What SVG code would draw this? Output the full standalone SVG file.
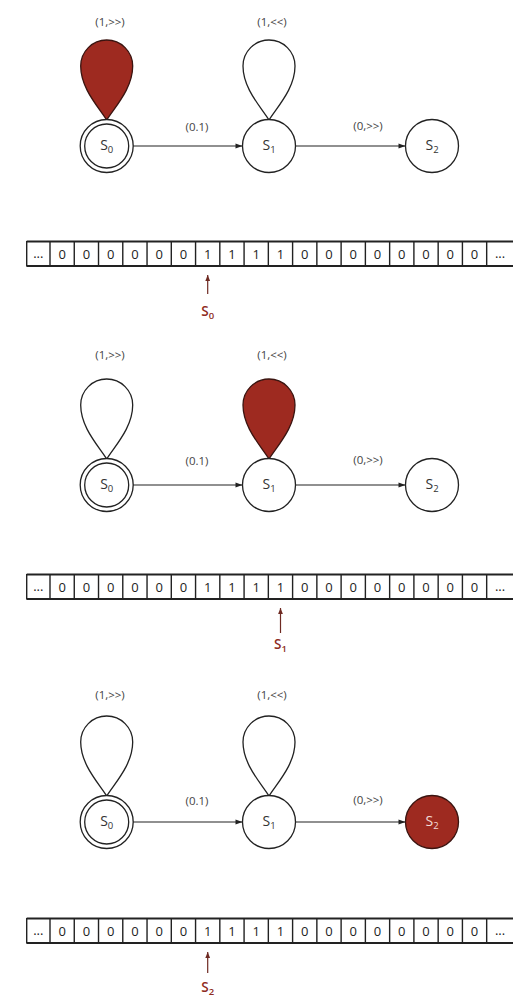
<svg xmlns="http://www.w3.org/2000/svg" xmlns:xlink="http://www.w3.org/1999/xlink" width="513" height="999" viewBox="0 0 513 999">
<style>
  .bg{fill:#ffffff}
  .st{fill:#ffffff;stroke:#222;stroke-width:1.3}
  .hot{fill:#9e2a20;stroke:#3a1410;stroke-width:1.3}
  .loop{fill:#ffffff;stroke:#222;stroke-width:1.3}
  .loophot{fill:#9e2a20;stroke:#3a1410;stroke-width:1.3}
  .edge{stroke:#222;stroke-width:1.1;fill:none}
  .lbl{font-family:"Open Sans","Liberation Sans",sans-serif;font-size:11.5px;fill:#444;text-anchor:middle}
  .sn{font-family:"Open Sans","Liberation Sans",sans-serif;font-size:14px;fill:#333;text-anchor:middle}
  .snw{font-family:"Open Sans","Liberation Sans",sans-serif;font-size:14px;fill:#f3dcd8;text-anchor:middle}
  .sub{font-size:9.5px}
  .tl{stroke:#222;stroke-width:2;fill:none}
  .td{stroke:#222;stroke-width:1.4;fill:none}
  .cell{font-family:"Open Sans","Liberation Sans",sans-serif;font-size:13px;fill:#222;text-anchor:middle}
  .ptr{stroke:#6e2a22;stroke-width:1.2;fill:none}
  .plbl{font-family:"Open Sans","Liberation Sans",sans-serif;font-size:13.5px;font-weight:600;fill:#8e2c22;text-anchor:middle}
</style>
<defs>
  <path id="loopShape" d="M0,-26 C-9,-40 -26,-58 -26,-80 A26,26 0 0 1 26,-80 C26,-58 9,-40 0,-26 Z"/>
  <marker id="ah" viewBox="0 0 10 10" refX="10" refY="5" markerWidth="9" markerHeight="7" markerUnits="userSpaceOnUse" orient="auto">
    <path d="M0,1.5 L10,5 L0,8.5 Z" fill="#222"/>
  </marker>
  <marker id="ahp" viewBox="0 0 10 10" refX="10" refY="5" markerWidth="8" markerHeight="6" markerUnits="userSpaceOnUse" orient="auto">
    <path d="M0,1 L10,5 L0,9 Z" fill="#6e2a22"/>
  </marker>
  <g id="tapeLines">
    <path class="tl" d="M26.7,241.5 H513 M26.7,266 H513"/>
    <path class="td" d="M26.7,241 V266.5 M50,241 V266.5 M74.26,241 V266.5 M98.52,241 V266.5 M122.78,241 V266.5 M147.04,241 V266.5 M171.3,241 V266.5 M195.56,241 V266.5 M219.82,241 V266.5 M244.08,241 V266.5 M268.34,241 V266.5 M292.6,241 V266.5 M316.86,241 V266.5 M341.12,241 V266.5 M365.38,241 V266.5 M389.64,241 V266.5 M413.9,241 V266.5 M438.16,241 V266.5 M462.42,241 V266.5 M486.68,241 V266.5"/>
  </g>
</defs>
<rect class="bg" x="0" y="0" width="513" height="999"/>

<!-- ===== Diagram 1 ===== -->
<g id="diagram1">
  <g id="d1-connectors">
    <use xlink:href="#loopShape" href="#loopShape" x="106.7" y="146" class="loophot"/>
    <use xlink:href="#loopShape" href="#loopShape" x="269" y="146" class="loop"/>
    <line class="edge" x1="133" y1="146" x2="242.5" y2="146" marker-end="url(#ah)"/>
    <line class="edge" x1="296" y1="146" x2="405.5" y2="146" marker-end="url(#ah)"/>
    <text class="lbl" x="110" y="26">(1,&gt;&gt;)</text>
    <text class="lbl" x="272" y="26">(1,&lt;&lt;)</text>
    <text class="lbl" x="197" y="131">(0.1)</text>
    <text class="lbl" x="368" y="130">(0,&gt;&gt;)</text>
  </g>
  <g id="d1-s0">
    <circle class="st" cx="106.7" cy="146" r="26.5"/>
    <circle class="st" cx="106.7" cy="146" r="22"/>
    <text class="sn" x="106.7" y="150">S<tspan class="sub" dy="3">0</tspan></text>
  </g>
  <g id="d1-s1">
    <circle class="st" cx="269" cy="146" r="26.5"/>
    <text class="sn" x="269" y="150">S<tspan class="sub" dy="3">1</tspan></text>
  </g>
  <g id="d1-s2">
    <circle class="st" cx="432" cy="146" r="26.5"/>
    <text class="sn" x="432" y="150">S<tspan class="sub" dy="3">2</tspan></text>
  </g>
</g>

<!-- ===== Tape 1 ===== -->
<g id="tape1">
  <use xlink:href="#tapeLines" href="#tapeLines"/>
  <text class="cell" x="38.3" y="258">...</text>
  <text class="cell" x="62.13 86.39 110.65 134.91 159.17 183.43 207.69 231.95 256.21 280.47 304.73 328.99 353.25 377.51 401.77 426.03 450.29 474.55" y="258.5">000000111100000000</text>
  <text class="cell" x="500" y="258">...</text>
  <line class="ptr" x1="207.7" y1="294" x2="207.7" y2="275" marker-end="url(#ahp)"/>
  <text class="plbl" x="207.7" y="316">S<tspan class="sub" dy="3">0</tspan></text>
</g>

<!-- ===== Diagram 2 ===== -->
<g id="diagram2" transform="translate(0,339)">
  <g id="d2-connectors">
    <use xlink:href="#loopShape" href="#loopShape" x="106.7" y="146" class="loop"/>
    <use xlink:href="#loopShape" href="#loopShape" x="269" y="146" class="loophot"/>
    <line class="edge" x1="133" y1="146" x2="242.5" y2="146" marker-end="url(#ah)"/>
    <line class="edge" x1="296" y1="146" x2="405.5" y2="146" marker-end="url(#ah)"/>
    <text class="lbl" x="110" y="20">(1,&gt;&gt;)</text>
    <text class="lbl" x="272" y="20">(1,&lt;&lt;)</text>
    <text class="lbl" x="197" y="126">(0.1)</text>
    <text class="lbl" x="368" y="125">(0,&gt;&gt;)</text>
  </g>
  <g id="d2-s0">
    <circle class="st" cx="106.7" cy="146" r="26.5"/>
    <circle class="st" cx="106.7" cy="146" r="22"/>
    <text class="sn" x="106.7" y="150">S<tspan class="sub" dy="3">0</tspan></text>
  </g>
  <g id="d2-s1">
    <circle class="st" cx="269" cy="146" r="26.5"/>
    <text class="sn" x="269" y="150">S<tspan class="sub" dy="3">1</tspan></text>
  </g>
  <g id="d2-s2">
    <circle class="st" cx="432" cy="146" r="26.5"/>
    <text class="sn" x="432" y="150">S<tspan class="sub" dy="3">2</tspan></text>
  </g>
</g>

<!-- ===== Tape 2 ===== -->
<g id="tape2" transform="translate(0,333)">
  <use xlink:href="#tapeLines" href="#tapeLines"/>
  <text class="cell" x="38.3" y="258">...</text>
  <text class="cell" x="62.13 86.39 110.65 134.91 159.17 183.43 207.69 231.95 256.21 280.47 304.73 328.99 353.25 377.51 401.77 426.03 450.29 474.55" y="258.5">000000111100000000</text>
  <text class="cell" x="500" y="258">...</text>
  <line class="ptr" x1="280.5" y1="300" x2="280.5" y2="275" marker-end="url(#ahp)"/>
  <text class="plbl" x="280.5" y="316">S<tspan class="sub" dy="3">1</tspan></text>
</g>

<!-- ===== Diagram 3 ===== -->
<g id="diagram3" transform="translate(0,676)">
  <g id="d3-connectors">
    <use xlink:href="#loopShape" href="#loopShape" x="106.7" y="146" class="loop"/>
    <use xlink:href="#loopShape" href="#loopShape" x="269" y="146" class="loop"/>
    <line class="edge" x1="133" y1="146" x2="242.5" y2="146" marker-end="url(#ah)"/>
    <line class="edge" x1="296" y1="146" x2="405.5" y2="146" marker-end="url(#ah)"/>
    <text class="lbl" x="110" y="23">(1,&gt;&gt;)</text>
    <text class="lbl" x="272" y="23">(1,&lt;&lt;)</text>
    <text class="lbl" x="197" y="129">(0.1)</text>
    <text class="lbl" x="368" y="128">(0,&gt;&gt;)</text>
  </g>
  <g id="d3-s0">
    <circle class="st" cx="106.7" cy="146" r="26.5"/>
    <circle class="st" cx="106.7" cy="146" r="22"/>
    <text class="sn" x="106.7" y="150">S<tspan class="sub" dy="3">0</tspan></text>
  </g>
  <g id="d3-s1">
    <circle class="st" cx="269" cy="146" r="26.5"/>
    <text class="sn" x="269" y="150">S<tspan class="sub" dy="3">1</tspan></text>
  </g>
  <g id="d3-s2">
    <circle class="hot" cx="432" cy="146" r="26.5"/>
    <text class="snw" x="432" y="150">S<tspan class="sub" dy="3">2</tspan></text>
  </g>
</g>

<!-- ===== Tape 3 ===== -->
<g id="tape3" transform="translate(0,677)">
  <use xlink:href="#tapeLines" href="#tapeLines"/>
  <text class="cell" x="38.3" y="258">...</text>
  <text class="cell" x="62.13 86.39 110.65 134.91 159.17 183.43 207.69 231.95 256.21 280.47 304.73 328.99 353.25 377.51 401.77 426.03 450.29 474.55" y="258.5">000000111100000000</text>
  <text class="cell" x="500" y="258">...</text>
  <line class="ptr" x1="207.7" y1="296" x2="207.7" y2="275" marker-end="url(#ahp)"/>
  <text class="plbl" x="207.7" y="315">S<tspan class="sub" dy="3">2</tspan></text>
</g>
</svg>
